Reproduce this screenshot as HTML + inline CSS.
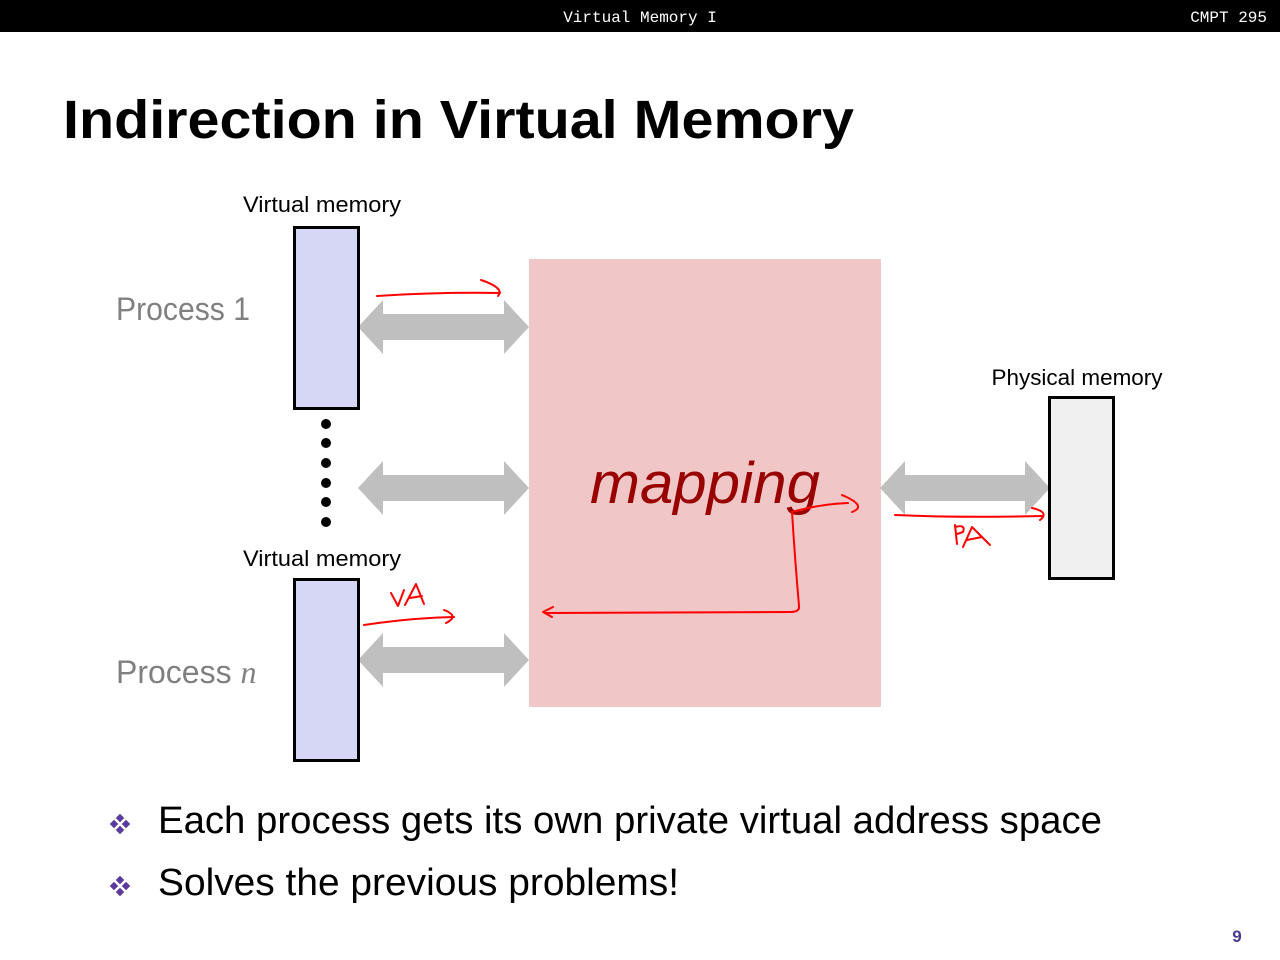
<!DOCTYPE html>
<html><head><meta charset="utf-8"><style>html,body{margin:0;padding:0;background:#fff}svg{display:block}</style></head>
<body>
<svg width="1280" height="960" viewBox="0 0 1280 960" xmlns="http://www.w3.org/2000/svg" font-family="Liberation Sans, sans-serif">
<rect x="0" y="0" width="1280" height="32" fill="#000"/>
<text x="640" y="22" fill="#fff" font-family="Liberation Mono, monospace" font-size="16" text-anchor="middle">Virtual Memory I</text>
<text x="1267" y="22" fill="#fff" font-family="Liberation Mono, monospace" font-size="16" text-anchor="end">CMPT 295</text>
<text x="63" y="138" font-size="54" font-weight="bold" textLength="791" lengthAdjust="spacingAndGlyphs">Indirection in Virtual Memory</text>

<rect x="529" y="259" width="352" height="448" fill="#f0c6c6"/>
<g fill="#bfbfbf">
<polygon points="358,327 383,300 383,314 504,314 504,300 529,327 504,354 504,340 383,340 383,354"/>
<polygon points="358,488 383,461 383,475 504,475 504,461 529,488 504,515 504,501 383,501 383,515"/>
<polygon points="358,660 383,633 383,647 504,647 504,633 529,660 504,687 504,673 383,673 383,687"/>
<polygon points="880,488 905,461 905,475 1025,475 1025,461 1050,488 1025,515 1025,501 905,501 905,515"/>
</g>
<rect x="294.5" y="227.5" width="64" height="181" fill="#d6d6f5" stroke="#000" stroke-width="3"/>
<rect x="294.5" y="579.5" width="64" height="181" fill="#d6d6f5" stroke="#000" stroke-width="3"/>
<rect x="1049.5" y="397.5" width="64" height="181" fill="#f0f0f0" stroke="#000" stroke-width="3"/>
<g fill="#000"><circle cx="326" cy="424" r="5"/><circle cx="326" cy="443" r="5"/><circle cx="326" cy="463" r="5"/><circle cx="326" cy="483" r="5"/><circle cx="326" cy="502" r="5"/><circle cx="326" cy="522" r="5"/></g>

<text x="322" y="212" font-size="22" text-anchor="middle" textLength="158" lengthAdjust="spacingAndGlyphs">Virtual memory</text>
<text x="322" y="566" font-size="22" text-anchor="middle" textLength="158" lengthAdjust="spacingAndGlyphs">Virtual memory</text>
<text x="1077" y="385" font-size="22" text-anchor="middle" textLength="171" lengthAdjust="spacingAndGlyphs">Physical memory</text>
<text x="116" y="320" font-size="32" fill="#808080" textLength="134" lengthAdjust="spacingAndGlyphs">Process 1</text>
<text x="116" y="683" font-size="32" fill="#808080">Process <tspan font-family="Liberation Serif, serif" font-style="italic">n</tspan></text>
<text x="590" y="503" font-size="58" font-style="italic" fill="#990000" textLength="230" lengthAdjust="spacingAndGlyphs">mapping</text>

<g fill="none" stroke="#ff0000" stroke-width="2" stroke-linecap="round" stroke-linejoin="round">
<path d="M377,296 Q440,292 500,293"/><path d="M481,280 Q505,288 498,296"/>
<path d="M364,625 Q410,618 454,617"/><path d="M444,610 Q460,616 446,623"/>
<path d="M391,593 L398,606 L404,590"/><path d="M405,605 L416,584 L424,604 M410,598 L422,596"/>
<path d="M792,512 Q820,504 848,503"/><path d="M842,495 Q868,506 852,512"/>
<path d="M792,512 Q795,560 799,606 Q800,612 790,612 L545,613"/><path d="M553,607 L543,612 L552,617"/>
<path d="M895,515 Q960,518 1043,516"/><path d="M1032,508 Q1050,512 1040,520"/>
<path d="M955,525 L957,544 M955,527 Q966,524 963,532 L957,534"/><path d="M963,547 L972,527 L990,545 M967,540 L982,537"/>
</g>

<g fill="#5b3a9e">
<g transform="translate(120,824)"><rect x="-3" y="-9" width="6" height="6" transform="rotate(45 0 -6)"/><rect x="-3" y="3" width="6" height="6" transform="rotate(45 0 6)"/><rect x="-9" y="-3" width="6" height="6" transform="rotate(45 -6 0)"/><rect x="3" y="-3" width="6" height="6" transform="rotate(45 6 0)"/></g>
<g transform="translate(120,886)"><rect x="-3" y="-9" width="6" height="6" transform="rotate(45 0 -6)"/><rect x="-3" y="3" width="6" height="6" transform="rotate(45 0 6)"/><rect x="-9" y="-3" width="6" height="6" transform="rotate(45 -6 0)"/><rect x="3" y="-3" width="6" height="6" transform="rotate(45 6 0)"/></g>
</g>
<text x="158" y="833" font-size="38" textLength="944" lengthAdjust="spacingAndGlyphs">Each process gets its own private virtual address space</text>
<text x="158" y="895" font-size="38" textLength="521" lengthAdjust="spacingAndGlyphs">Solves the previous problems!</text>
<text x="1237" y="942" font-size="17" font-weight="bold" fill="#4b3a8e" text-anchor="middle">9</text>
</svg>
</body></html>
